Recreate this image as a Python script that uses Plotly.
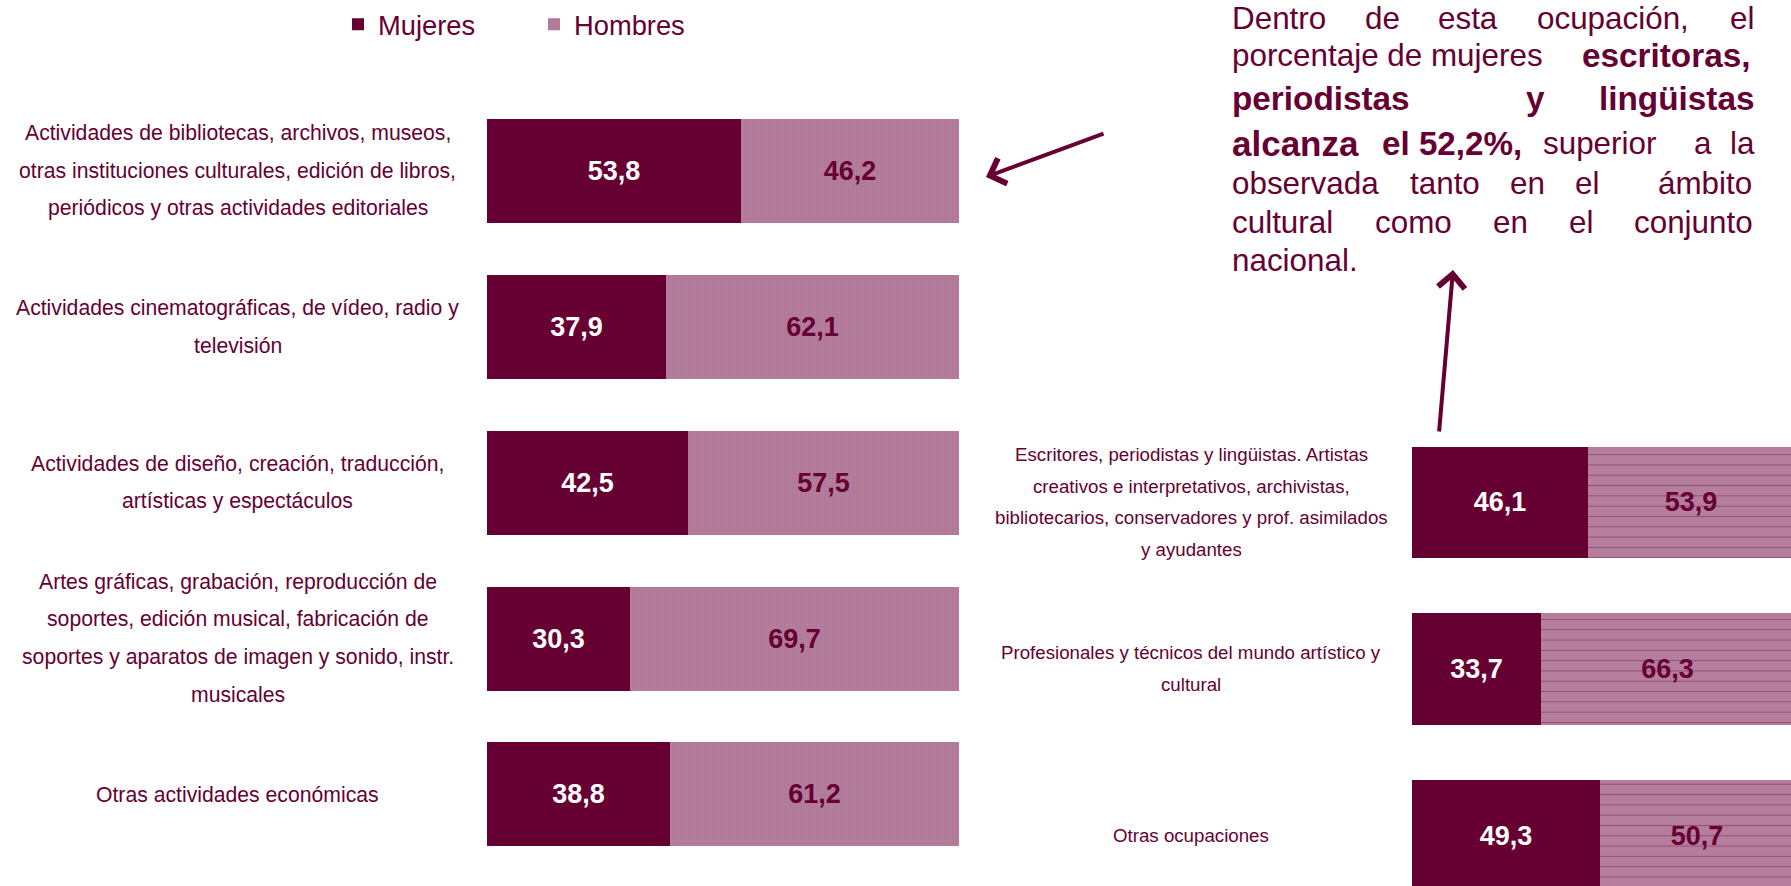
import plotly.graph_objects as go

W, H = 1791, 886
DARK = "#660033"
MAUVE = "#b57e9c"
FONT = "Arial, Liberation Sans, sans-serif"

# ---------------- data ----------------
series_names = ["Mujeres", "Hombres"]

left_categories = [
    "Actividades de bibliotecas, archivos, museos,<br>otras instituciones culturales, edición de libros,<br>periódicos y otras actividades editoriales",
    "Actividades cinematográficas, de vídeo, radio y<br>televisión",
    "Actividades de diseño, creación, traducción,<br>artísticas y espectáculos",
    "Artes gráficas, grabación, reproducción de<br>soportes, edición musical, fabricación de<br>soportes y aparatos de imagen y sonido, instr.<br>musicales",
    "Otras actividades económicas",
]
left_mujeres = [53.8, 37.9, 42.5, 30.3, 38.8]
left_hombres = [46.2, 62.1, 57.5, 69.7, 61.2]

right_categories = [
    "Escritores, periodistas y lingüistas. Artistas<br>creativos e interpretativos, archivistas,<br>bibliotecarios, conservadores y prof. asimilados<br>y ayudantes",
    "Profesionales y técnicos del mundo artístico y<br>cultural",
    "Otras ocupaciones",
]
right_mujeres = [46.1, 33.7, 49.3]
right_hombres = [53.9, 66.3, 50.7]


def px_x(p):
    return p / W


def px_y(p):
    return 1 - p / H


left_pos = list(range(len(left_categories)))
right_pos = list(range(len(right_categories)))

fig = go.Figure()
common = dict(
    orientation="h",
    texttemplate="<b>%{x:.1f}</b>",
    textposition="inside",
    insidetextanchor="middle",
    textangle=0,
    constraintext="none",
    hoverinfo="skip",
)
VAL_SIZE = 27

fig.add_trace(go.Bar(
    y=left_pos, x=left_mujeres, name=series_names[0], width=0.667,
    marker=dict(color=DARK, line=dict(width=0)),
    textfont=dict(color="white", size=VAL_SIZE, family=FONT),
    xaxis="x", yaxis="y", legendrank=1, **common))
fig.add_trace(go.Bar(
    y=left_pos, x=left_hombres, name=series_names[1], width=0.667,
    marker=dict(color=MAUVE, line=dict(width=0),
                pattern=dict(shape="+", fgcolor="#a66b8b", size=4, solidity=0.3)),
    textfont=dict(color=DARK, size=VAL_SIZE, family=FONT),
    xaxis="x", yaxis="y", legendrank=2, **common))
fig.add_trace(go.Bar(
    y=right_pos, x=right_mujeres, name=series_names[0], width=0.67, showlegend=False,
    marker=dict(color=DARK, line=dict(width=0)),
    textfont=dict(color="white", size=VAL_SIZE, family=FONT),
    xaxis="x2", yaxis="y2", **common))
fig.add_trace(go.Bar(
    y=right_pos, x=right_hombres, name=series_names[1], width=0.67, showlegend=False,
    marker=dict(color=MAUVE, line=dict(width=0),
                pattern=dict(shape="-", fgcolor="#7a1d4d", size=10.3, solidity=0.1)),
    textfont=dict(color=DARK, size=VAL_SIZE, family=FONT),
    xaxis="x2", yaxis="y2", **common))

annotations = []

# category labels, one annotation per line, tied to the bar axis positions
for i, cat in enumerate(left_categories):
    lines = cat.split("<br>")
    n = len(lines)
    for k, line in enumerate(lines):
        annotations.append(dict(
            x=px_x(238), xref="paper", y=left_pos[i], yref="y",
            yshift=((n - 1) / 2 - k) * 37.5,
            text=line, showarrow=False, xanchor="center", yanchor="middle",
            font=dict(size=21.2, color=DARK, family=FONT)))

for i, cat in enumerate(right_categories):
    lines = cat.split("<br>")
    n = len(lines)
    for k, line in enumerate(lines):
        annotations.append(dict(
            x=px_x(1191), xref="paper", y=right_pos[i], yref="y2",
            yshift=((n - 1) / 2 - k) * 31.7,
            text=line, showarrow=False, xanchor="center", yanchor="middle",
            font=dict(size=18.7, color=DARK, family=FONT)))

# justified note text (word by word)
R, B, BA, BE = 31.4, 33.3, 35, 33.2
note_lines = [
    (18, [("Dentro", 1230, False, R), ("de", 1362.6, False, R), ("esta", 1436.4, False, R),
          ("ocupación,", 1534.9, False, R), ("el", 1728, False, R)]),
    (56, [("porcentaje de mujeres", 1230, False, R), ("escritoras,", 1580.4, True, B)]),
    (98, [("periodistas", 1230, True, B), ("y", 1523.6, True, B), ("lingüistas", 1597.4, True, B)]),
    (143, [("alcanza", 1230, True, BA), ("el 52,2%,", 1380, True, BE), ("superior", 1541, False, R),
           ("a", 1692, False, R), ("la", 1728, False, R)]),
    (183, [("observada", 1230, False, R), ("tanto", 1408, False, R), ("en", 1508.4, False, R),
           ("el", 1572.8, False, R), ("ámbito", 1656, False, R)]),
    (222, [("cultural", 1230, False, R), ("como", 1372.8, False, R), ("en", 1491.4, False, R),
           ("el", 1567, False, R), ("conjunto", 1631.5, False, R)]),
    (260, [("nacional.", 1230, False, R)]),
]
for ypx, words in note_lines:
    for text, xpx, bold, size in words:
        annotations.append(dict(
            x=px_x(xpx), xref="paper", y=px_y(ypx), yref="paper",
            text=f"<b>{text}</b>" if bold else text, showarrow=False,
            xanchor="left", yanchor="middle",
            font=dict(size=size, color=DARK, family=FONT)))

# arrows
for tip, tail in [((986, 177), (1105, 133)), ((1453, 270), (1439, 433))]:
    annotations.append(dict(
        x=px_x(tip[0]), y=px_y(tip[1]), xref="paper", yref="paper",
        ax=tail[0] - tip[0], ay=tail[1] - tip[1], axref="pixel", ayref="pixel",
        text="", showarrow=True, arrowhead=4, arrowsize=1.3, arrowwidth=4,
        arrowcolor=DARK, standoff=0, startstandoff=0))

fig.update_layout(
    width=W, height=H, autosize=False,
    margin=dict(l=0, r=0, t=0, b=0, pad=0),
    paper_bgcolor="white", plot_bgcolor="white",
    barmode="stack", separators=",.",
    bargap=0,
    font=dict(family=FONT, color=DARK),
    showlegend=True,
    legend=dict(orientation="h", x=px_x(338), xanchor="left", y=1.0, yanchor="top",
                font=dict(size=27.3, color=DARK, family=FONT),
                bgcolor="rgba(0,0,0,0)", entrywidth=151, entrywidthmode="pixels",
                traceorder="normal"),
    xaxis=dict(domain=[px_x(487), px_x(959)], range=[0, 100], visible=False, fixedrange=True),
    yaxis=dict(domain=[px_y(871.95), px_y(92.55)], range=[4.5, -0.5], visible=False, fixedrange=True),
    xaxis2=dict(domain=[px_x(1412), 1.0], range=[0, 100 * (W - 1412) / 382], visible=False,
                anchor="y2", fixedrange=True),
    yaxis2=dict(domain=[0.0, px_y(418.6)], range=[2.303, -0.5], visible=False,
                anchor="x2", fixedrange=True),
    annotations=annotations,
)

fig.write_html("out.html", config={"displayModeBar": False},
               post_script="document.body.style.margin='0';")
